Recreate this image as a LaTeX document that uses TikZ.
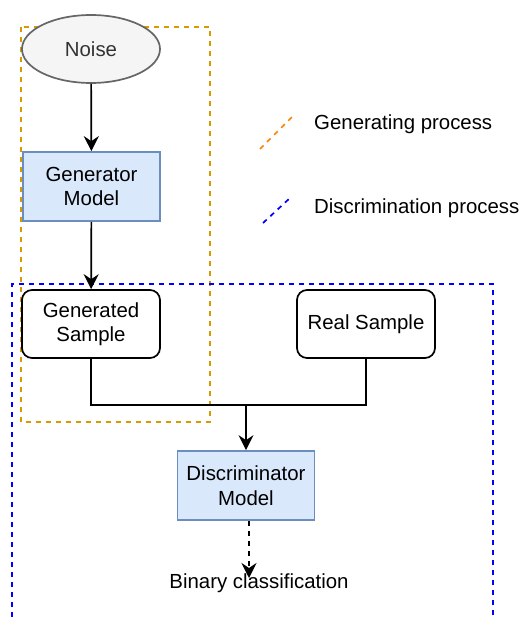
\documentclass[tikz,border=0pt]{standalone}
\usepackage{fontspec}
\setmainfont{Liberation Sans}
\usetikzlibrary{arrows.meta,shapes.geometric}
\definecolor{genframe}{HTML}{D79B00}
\definecolor{genlegend}{HTML}{FF8000}
\definecolor{modelfill}{HTML}{DAE8FC}
\definecolor{modeldraw}{HTML}{6C8EBF}
\definecolor{noisefill}{HTML}{F5F5F5}
\definecolor{noisedraw}{HTML}{666666}
\definecolor{noisetext}{HTML}{333333}
\tikzset{
  every node/.style={font=\fontsize{20.4}{24.5}\selectfont, align=center, inner sep=0pt},
  model/.style={draw=modeldraw, fill=modelfill, line width=1.7pt, minimum width=137pt, minimum height=69pt},
  sample/.style={draw=black, fill=white, line width=1.7pt, rounded corners=10pt, minimum width=138pt, minimum height=68pt},
  noisebox/.style={ellipse, draw=noisedraw, fill=noisefill, text=noisetext, line width=1.7pt, minimum width=138pt, minimum height=68pt},
  flow/.style={line width=1.7pt, -{Stealth[length=15pt,width=15pt,inset=5pt]}},
  wire/.style={line width=1.7pt},
  dashpat/.style={dash pattern=on 5pt off 5pt, line width=1.7pt},
}
\begin{document}
\begin{tikzpicture}[x=1pt,y=-1pt]
\useasboundingbox[fill=white] (0,0) rectangle (522,617);

% process frames
\draw[genframe, dashpat] (21,27) rectangle (210,422);
\draw[blue, dashpat] (12,617) -- (12,284) -- (493,284) -- (493,617);

% nodes
\node[noisebox] (noise) at (91,49) {Noise};
\node[model] (gen) at (91.5,186.5) {Generator\\Model};
\node[sample] (gsample) at (91,324) {Generated\\Sample};
\node[sample] (rsample) at (366,324) {Real Sample};
\node[model] (disc) at (246,485.5) {Discriminator\\Model};
\node (binary) at (259,583) {Binary classification};
\coordinate (join) at (246,405);
\coordinate (outtip) at (249,578);

% connectors
\draw[flow] (noise) -- (gen);
\draw[flow] (gen) -- (gsample);
\draw[wire] (gsample.south) |- (join) -| (rsample.south);
\draw[flow] (join) -- (disc);
\draw[flow, dash pattern=on 5pt off 5pt] (disc.south -| outtip) -- (outtip);

% legend
\coordinate (lg1) at (260,149);
\coordinate (lg2) at (293,116);
\coordinate (lb1) at (263,223);
\coordinate (lb2) at (290,198);
\draw[genlegend, dashpat] (lg1) -- (lg2);
\draw[blue, dashpat] (lb1) -- (lb2);
\node[anchor=west] (leggen) at (314,124) {Generating process};
\node[anchor=west] (legdisc) at (314,208) {Discrimination process};
\end{tikzpicture}
\end{document}
